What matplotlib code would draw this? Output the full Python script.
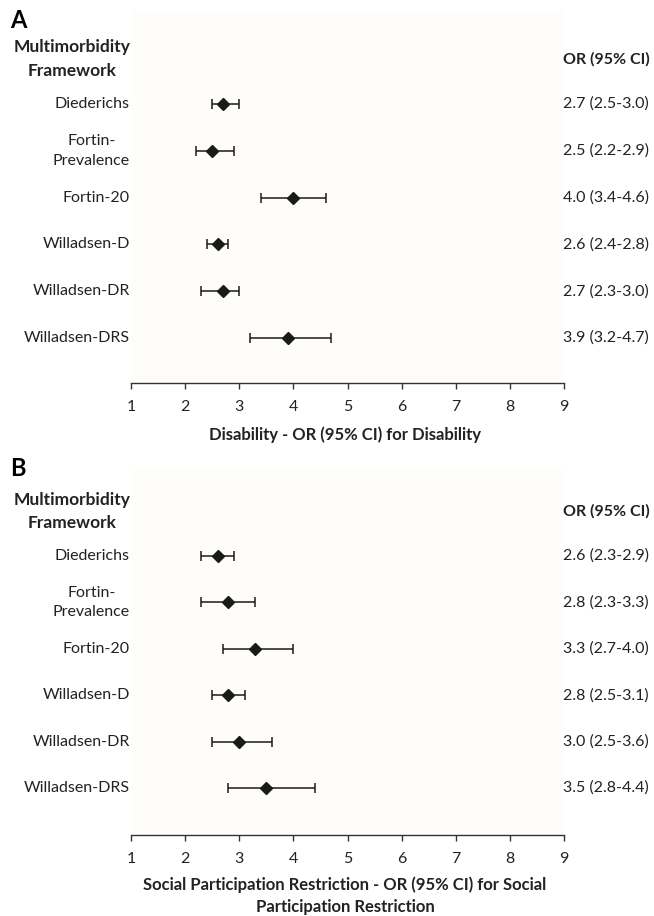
import matplotlib
matplotlib.use('Agg')
import matplotlib.pyplot as plt
import matplotlib.transforms as mtransforms

plt.rcParams['font.family'] = ['Lato', 'DejaVu Sans']

frameworks = ['Diederichs', 'Fortin-\nPrevalence', 'Fortin-20', 'Willadsen-D',
              'Willadsen-DR', 'Willadsen-DRS']

# panel A - disability
or_a = [2.7, 2.5, 4.0, 2.6, 2.7, 3.9]
lo_a = [2.5, 2.2, 3.4, 2.4, 2.3, 3.2]
hi_a = [3.0, 2.9, 4.6, 2.8, 3.0, 4.7]

# panel B - social participation restriction
or_b = [2.6, 2.8, 3.3, 2.8, 3.0, 3.5]
lo_b = [2.3, 2.3, 2.7, 2.5, 2.5, 2.8]
hi_b = [2.9, 3.3, 4.0, 3.1, 3.6, 4.4]

xticks = [1, 2, 3, 4, 5, 6, 7, 8, 9]

W, H = 654, 916
fig = plt.figure(figsize=(W / 100, H / 100), dpi=100)
TXT = '#222222'


def panel(ors, los, his, top, row0, step, bottom, xlabel, xlab_y):
    # geometry in pixels -> figure fraction
    x0, x1 = 131, 564
    ax = fig.add_axes([x0 / W, 1 - bottom / H, (x1 - x0) / W, (bottom - top) / H])
    ax.set_facecolor('#fefdfa')
    ax.set_xlim(1, 9)
    ax.set_ylim((bottom - row0) / step, (top - row0) / step)
    ys = list(range(len(ors)))
    xerr = [[o - l for o, l in zip(ors, los)], [h - o for o, h in zip(ors, his)]]
    ax.errorbar(ors, ys, xerr=xerr, fmt='D', color='#1a1a1a', ms=6.5,
                elinewidth=1.1, capsize=3.5, capthick=1.1)
    for s in ['top', 'right', 'left']:
        ax.spines[s].set_visible(False)
    ax.spines['bottom'].set_color('#333333')
    ax.spines['bottom'].set_linewidth(1.0)
    ax.set_yticks([])
    ax.set_xticks(xticks)
    ax.tick_params(axis='x', direction='out', length=4, width=1.0,
                   color='#333333', labelsize=11.5, pad=8, labelcolor=TXT)

    tr = mtransforms.blended_transform_factory(fig.transFigure, ax.transData)
    for i, name in enumerate(frameworks):
        ax.text(130 / W, i, name, transform=tr, ha='right', va='center',
                multialignment='center', fontsize=11.5, color=TXT,
                linespacing=1.5)
        ax.text(563 / W, i, '%.1f (%.1f-%.1f)' % (ors[i], los[i], his[i]),
                transform=tr, ha='left', va='center', fontsize=11.5,
                color=TXT)

    ax.text(72 / W, -0.96, 'Multimorbidity\nFramework', transform=tr,
            ha='center', va='center', fontsize=12.5, fontweight='bold',
            color=TXT, linespacing=1.55)
    ax.text(563 / W, -0.96, 'OR (95% CI)', transform=tr, ha='left',
            va='center', fontsize=11.5, fontweight='bold', color=TXT)
    fig.text(345 / W, 1 - xlab_y / H, xlabel, ha='center', va='center',
             fontsize=12, fontweight='bold', color=TXT, linespacing=1.45)
    return ax


panel(or_a, lo_a, hi_a, 10, 104, 46.8, 383,
      'Disability - OR (95% CI) for Disability', 435)
panel(or_b, lo_b, hi_b, 470, 556, 46.4, 835,
      'Social Participation Restriction - OR (95% CI) for Social\nParticipation Restriction', 896)

fig.text(10 / W, 1 - 20 / H, 'A', fontsize=17, fontweight='bold', va='center')
fig.text(10 / W, 1 - 468 / H, 'B', fontsize=17, fontweight='bold', va='center')

fig.savefig('out.png', dpi=100, facecolor='white')
